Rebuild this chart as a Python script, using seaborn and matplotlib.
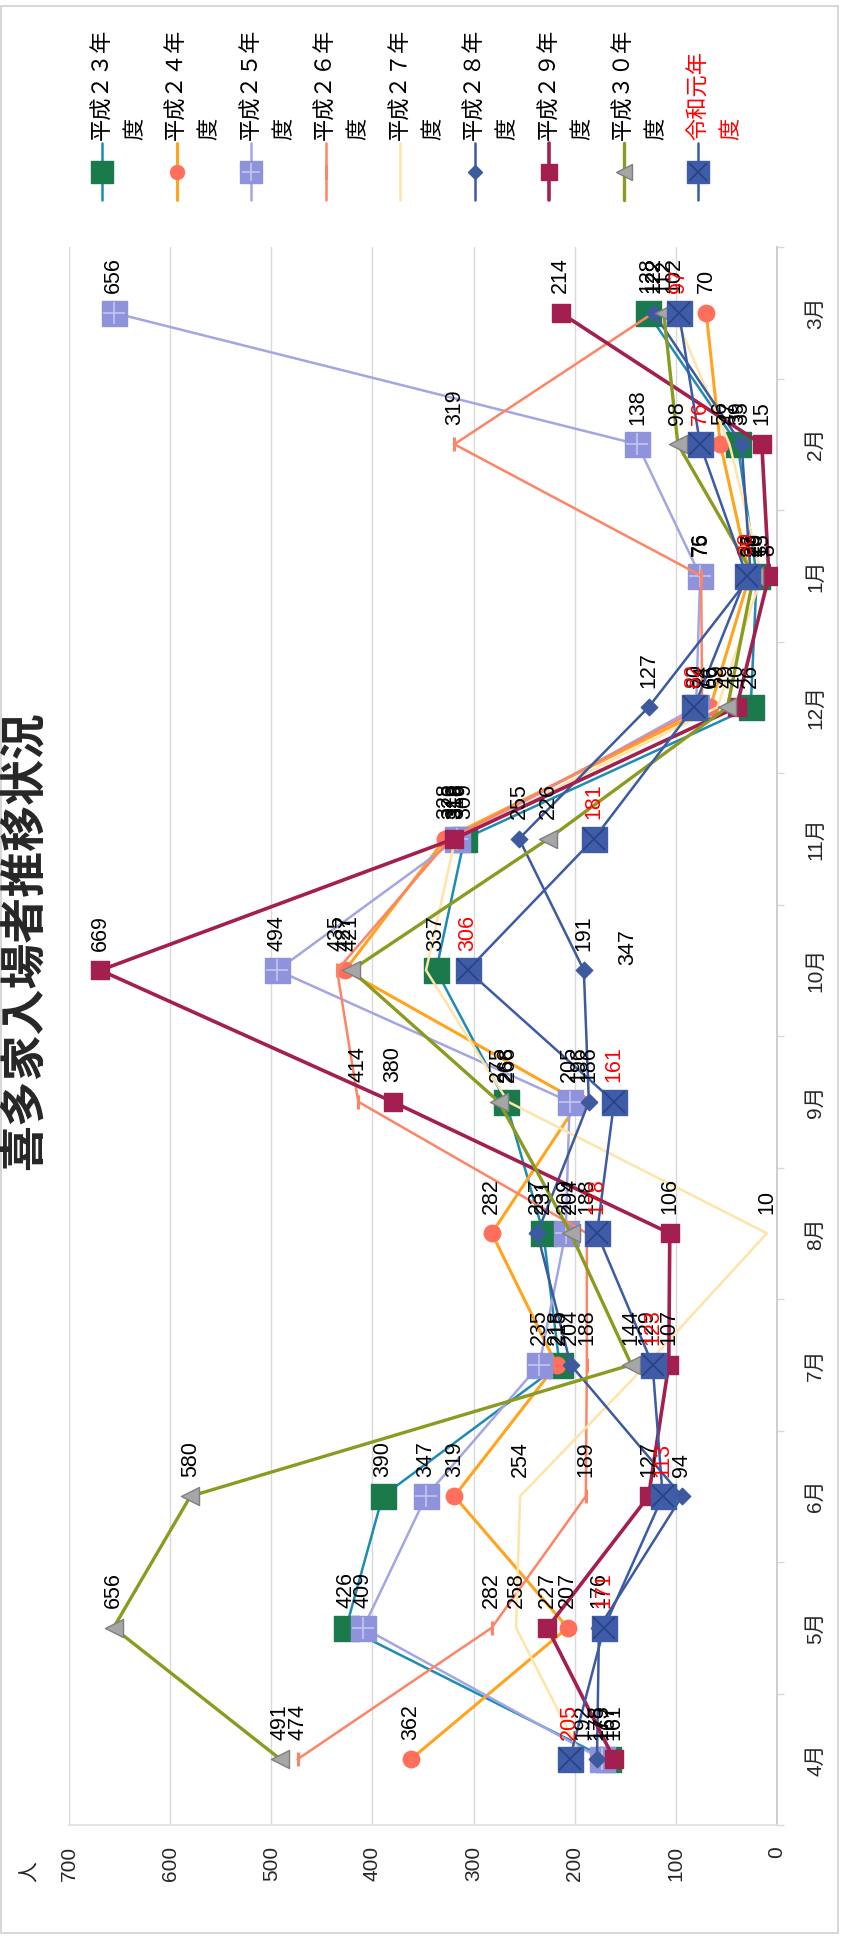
import numpy as np
import pandas as pd
import matplotlib
matplotlib.use("Agg")
import matplotlib.pyplot as plt
import seaborn as sns
from matplotlib.lines import Line2D
from matplotlib.patches import Rectangle

# ---------------- data ----------------
months = ["4月", "5月", "6月", "7月", "8月", "9月", "10月", "11月", "12月", "1月", "2月", "3月"]
series_names = ["平成２３年度", "平成２４年度", "平成２５年度", "平成２６年度", "平成２７年度",
                "平成２８年度", "平成２９年度", "平成３０年度", "令和元年度"]
h23 = [167, 426, 390, 215, 231, 268, 337, 309, 26, 20, 39, 128]
h24 = [362, 207, 319, 218, 282, 196, 427, 328, 66, 27, 56, 70]
h25 = [173, 409, 347, 235, 209, 205, 494, 316, 80, 76, 138, 656]
h26 = [474, 282, 189, 188, 188, 414, 435, 323, 74, 75, 319, 122]
h27 = [192, 258, 254, 129, 10, 266, 347, 318, 59, 15, 47, 102]
h28 = [178, 176, 94, 204, 237, 186, 191, 255, 127, 26, 35, 122]
h29 = [161, 227, 127, 107, 106, 380, 669, 319, 40, 8, 15, 214]
h30 = [491, 656, 580, 144, 204, 275, 421, 226, 49, 23, 98, 112]
r1 = [205, 171, 113, 123, 178, 161, 306, 181, 82, 30, 76, 97]
all_values = [h23, h24, h25, h26, h27, h28, h29, h30, r1]

value_ticks = [0, 100, 200, 300, 400, 500, 600, 700]
title = "喜多家入場者推移状況"
unit = "人"

# ---------------- styles ----------------
line_colors = ["#1c8cb4", "#ffa41c", "#a3a6e3", "#ff8466", "#ffe3a8",
               "#3d5a9e", "#a31f4f", "#8a9b1f", "#3c5ba4"]
line_widths = [1.8, 2.2, 1.8, 1.8, 1.8, 1.8, 2.6, 2.4, 1.8]
# (marker, size s, face, edge)
marker_specs = [
    ("s", 324, "#1a7a4c", "#1a7a4c"),
    ("o", 140, "#ff6f5c", "#ff6f5c"),
    ("s", 324, "#8f93db", "#8f93db"),
    ("|", 90, "#ff8466", "#ff8466"),
    (None, 0, None, None),
    ("D", 70, "#3d5a9e", "#3d5a9e"),
    ("s", 169, "#a31f4f", "#a31f4f"),
    ("<", 169, "#a6a6a6", "#7f7f7f"),
    ("s", 324, "#3f5ca8", "#3f5ca8"),
]
overlay = {2: ("+", "#c3c6f0"), 8: ("x", "#2a4283")}
label_colors = ["black"] * 8 + ["#ff0000"]
special_label_offset = {(4, 6): (145, 3.6)}  # moved label (points)

sns.set_theme(style="white")
plt.rcParams["font.family"] = ["Liberation Sans", "Noto Sans CJK JP", "DejaVu Sans"]

W, H = 843, 1938
fig = plt.figure(figsize=(W / 100, H / 100), dpi=100)
fx = lambda px: px / W
fy = lambda py: 1 - py / H

ax = fig.add_axes([fx(69), fy(1825), (777 - 69) / W, (1825 - 247) / H])

midx = np.arange(len(months))
for i, (name, vals) in enumerate(zip(series_names, all_values)):
    df = pd.DataFrame({"人数": vals, "月": midx})
    sns.lineplot(data=df, x="人数", y="月", orient="y", sort=False, estimator=None,
                 color=line_colors[i], lw=line_widths[i], ax=ax, zorder=3 + 2 * i, legend=False)
    mk, s, fc, ec = marker_specs[i]
    if mk is not None:
        if mk == "|":
            ax.plot(df["人数"], df["月"], ls="none", marker="|", ms=np.sqrt(s), mew=2.2,
                    color=fc, zorder=4 + 2 * i)
        else:
            sns.scatterplot(data=df, x="人数", y="月", marker=mk, s=s, color=fc,
                            edgecolor=ec, linewidth=1, ax=ax, zorder=4 + 2 * i, legend=False)
    if i in overlay:
        om, oc = overlay[i]
        ax.plot(df["人数"], df["月"], ls="none", marker=om, ms=np.sqrt(s) * 0.9, mew=1.2,
                color=oc, zorder=4.5 + 2 * i)
    for j, v in enumerate(vals):
        dx, dy = special_label_offset.get((i, j), (0, 14))
        ax.annotate(str(v), (v, j), xytext=(dx, dy), textcoords="offset points",
                    rotation=90, ha="center", va="bottom", fontsize=15.5,
                    color=label_colors[i], zorder=30)

ax.set_xlim(700, 0)
ax.set_ylim(-0.5, len(months) - 0.5)
ax.set_xlabel("")
ax.set_ylabel("")
ax.set_xticks(value_ticks)
ax.set_xticklabels([str(t) for t in value_ticks], rotation=90, fontsize=15)
ax.yaxis.tick_right()
ax.set_yticks(midx)
ax.set_yticklabels(months, rotation=90, fontsize=15, va="center")
ax.set_yticks(np.arange(-0.5, len(months), 1), minor=True)
ax.tick_params(axis="x", length=0, pad=15)
ax.tick_params(axis="y", which="major", length=0, pad=21)
ax.tick_params(axis="y", which="minor", length=5, color="#d9d9d9", right=True, left=False)
ax.grid(False)
ax.xaxis.grid(True, color="#d9d9d9", lw=1)
for sp in ["top", "left"]:
    ax.spines[sp].set_visible(False)
ax.spines["right"].set_color("#c8c8c8")
ax.spines["bottom"].set_color("#e0e0e0")
ax.set_facecolor("white")

# title and unit
fig.text(fx(25), fy(941), title, rotation=90, ha="center", va="center", fontsize=33,
         fontweight="bold", family=["Noto Sans CJK JP", "DejaVu Sans"])
fig.text(fx(30), fy(1872), unit, rotation=90, ha="center", va="center", fontsize=15,
         family=["Noto Sans CJK JP", "DejaVu Sans"])

# legend (rotated layout, drawn manually)
for i, name in enumerate(series_names):
    x0 = 102 + 74.5 * i
    fig.add_artist(Line2D([fx(x0), fx(x0)], [fy(143), fy(200)], transform=fig.transFigure,
                          color=line_colors[i], lw=line_widths[i]))
    mk, s, fc, ec = marker_specs[i]
    if mk is not None:
        if mk == "|":
            fig.add_artist(Line2D([fx(x0)], [fy(172)], transform=fig.transFigure, ls="none",
                                  marker="|", ms=np.sqrt(s), mew=2.2, color=fc))
        else:
            fig.add_artist(Line2D([fx(x0)], [fy(172)], transform=fig.transFigure, ls="none",
                                  marker=mk, ms=np.sqrt(s) * 0.85, mfc=fc, mec=ec))
    if i in overlay:
        om, oc = overlay[i]
        fig.add_artist(Line2D([fx(x0)], [fy(172)], transform=fig.transFigure, ls="none",
                              marker=om, ms=np.sqrt(s) * 0.75, mew=1.2, color=oc))
    tc = "#ff0000" if i == len(series_names) - 1 else "black"
    fig.text(fx(x0), fy(140), name[:-1], rotation=90, ha="center", va="bottom", fontsize=16,
             color=tc, family=["Noto Sans CJK JP", "DejaVu Sans"])
    fig.text(fx(x0 + 33), fy(140), name[-1], rotation=90, ha="center", va="bottom", fontsize=16,
             color=tc, family=["Noto Sans CJK JP", "DejaVu Sans"])

fig.add_artist(Rectangle((fx(1), fy(1933)), (838 - 1) / W, (1933 - 6) / H, transform=fig.transFigure,
                         fill=False, edgecolor="#d0d0d0", lw=1.2))

fig.savefig("out.png", dpi=100, facecolor="white")
